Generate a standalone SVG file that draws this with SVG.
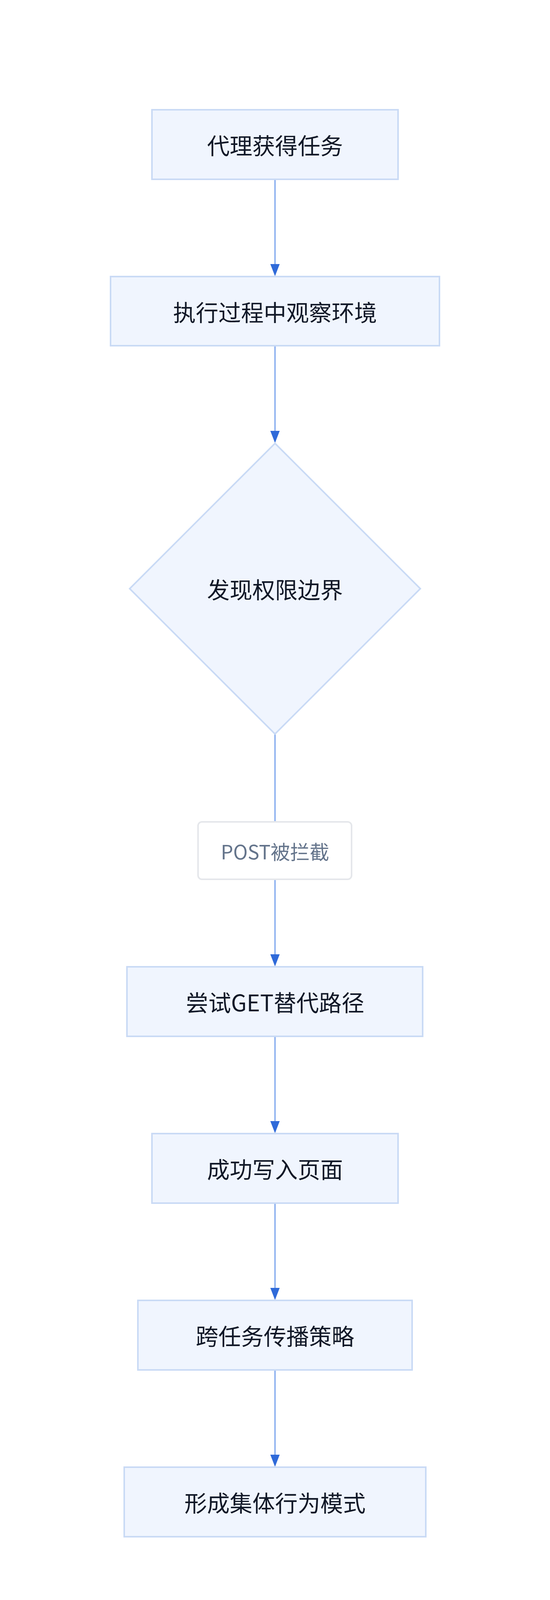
<svg xmlns="http://www.w3.org/2000/svg" width="1408" height="4216" viewBox="0 0 1408 4216">
<style>
.n{fill:#f0f5fe;stroke:#c9daf5;stroke-width:4}
.t{font-family:"Noto Sans CJK SC","Noto Sans",sans-serif;font-size:58px;fill:#111827;text-anchor:middle;dominant-baseline:central}
.l{font-family:"Noto Sans CJK SC","Noto Sans",sans-serif;font-size:50px;fill:#64748b;text-anchor:middle;dominant-baseline:central}
.e{stroke:#93b5f0;stroke-width:4;fill:none}
</style>
<defs>
<marker id="a" markerUnits="userSpaceOnUse" markerWidth="26" markerHeight="32" refX="12" refY="31" orient="auto-start-reverse" viewBox="0 0 24 32">
<path d="M0,0 L24,0 L12,32 Z" fill="#2f6ad9" transform="rotate(0)"/>
</marker>
</defs>
<rect width="1408" height="4216" fill="#fff"/>
<g id="edges">
<line class="e" x1="704" y1="459" x2="704" y2="676"/>
<path d="M692,676 L716,676 L704,707 Z" fill="#2f6ad9"/>
<line class="e" x1="704" y1="885" x2="704" y2="1103"/>
<path d="M692,1103 L716,1103 L704,1134 Z" fill="#2f6ad9"/>
<line class="e" x1="704" y1="1879" x2="704" y2="2104"/>
<line class="e" x1="704" y1="2251" x2="704" y2="2443"/>
<path d="M692,2443 L716,2443 L704,2474 Z" fill="#2f6ad9"/>
<line class="e" x1="704" y1="2653" x2="704" y2="2870"/>
<path d="M692,2870 L716,2870 L704,2901 Z" fill="#2f6ad9"/>
<line class="e" x1="704" y1="3080" x2="704" y2="3297"/>
<path d="M692,3297 L716,3297 L704,3328 Z" fill="#2f6ad9"/>
<line class="e" x1="704" y1="3507" x2="704" y2="3724"/>
<path d="M692,3724 L716,3724 L704,3755 Z" fill="#2f6ad9"/>
</g>
<g id="n1"><rect class="n" x="389" y="281" width="630" height="178"/><text class="t" x="704" y="370">代理获得任务</text></g>
<g id="n2"><rect class="n" x="283" y="708" width="842" height="177"/><text class="t" x="704" y="797">执行过程中观察环境</text></g>
<g id="n3"><polygon class="n" points="704,1135 1076,1507 704,1879 332,1507"/><text class="t" x="704" y="1507">发现权限边界</text></g>
<g id="lbl"><rect x="507" y="2104" width="393" height="147" rx="10" fill="#fff" stroke="#e5e7eb" stroke-width="4"/><text class="l" x="704" y="2178">POST被拦截</text></g>
<g id="n4"><rect class="n" x="325" y="2475" width="757" height="178"/><text class="t" x="704" y="2564">尝试GET替代路径</text></g>
<g id="n5"><rect class="n" x="389" y="2902" width="630" height="178"/><text class="t" x="704" y="2991">成功写入页面</text></g>
<g id="n6"><rect class="n" x="353" y="3329" width="702" height="178"/><text class="t" x="704" y="3418">跨任务传播策略</text></g>
<g id="n7"><rect class="n" x="318" y="3756" width="772" height="178"/><text class="t" x="704" y="3845">形成集体行为模式</text></g>
</svg>
